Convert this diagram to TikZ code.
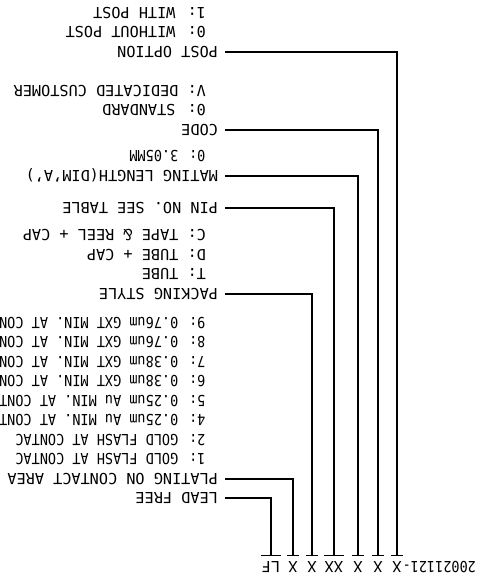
\documentclass[tikz,border=0pt]{standalone}
\usepackage{fontspec}
\setmainfont{DejaVu Sans Mono}
\newfontfamily\narrowfont[FakeStretch=0.89]{DejaVu Sans Mono}

\begin{document}
\begin{tikzpicture}[
    x=1pt,
    y=-1pt,
    rotate=180,
    transform shape,
    font=\fontsize{15.2}{18}\selectfont,
    line width=1.1pt,
    field/.style={
        anchor=base,
        inner xsep=0.5pt,
        inner ysep=5pt,
        text height=11pt,
        text depth=0pt
    },
    heading/.style={
        anchor=west,
        inner xsep=6.5pt,
        inner ysep=0pt,
        text height=11pt,
        text depth=0pt
    },
    option/.style={
        heading,
        inner xsep=0pt
    },
    narrow/.style={
        font=\fontsize{15.2}{18}\narrowfont
    }
]
    \useasboundingbox (0,0) rectangle (480,584);

    % part number
    \node[field,narrow,anchor=base east] (num) at (78.4,23) {20021121-};
    \node[field] (post) at (83,23) {X};
    \node[field] (code) at (102,23) {X};
    \node[field] (mating) at (122,23) {X};
    \node[field] (pins) at (146,23) {XX};
    \node[field] (packing) at (168,23) {X};
    \node[field] (plating) at (187,23) {X};
    \node[field] (lf) at (209,23) {LF};

    % headings
    \node[heading] (lf_text) at (255,86) {LEAD FREE};
    \node[heading] (plating_text) at (255,105) {PLATING ON CONTACT AREA};
    \node[heading] (packing_text) at (255,290) {PACKING STYLE};
    \node[heading] (pins_text) at (255,376) {PIN NO. SEE TABLE};
    \node[heading] (mating_text) at (255,408) {MATING LENGTH(DIM'A')};
    \node[heading] (code_text) at (255,454) {CODE};
    \node[heading] (post_text) at (255,532) {POST OPTION};

    % options under each heading
    \foreach \t [count=\i] in {1: GOLD FLASH AT CONTAC,2: GOLD FLASH AT CONTAC,
            4: 0.25um Au MIN. AT CONT,5: 0.25um Au MIN. AT CONT,
            6: 0.38um GXT MIN. AT CON,7: 0.38um GXT MIN. AT CON,
            8: 0.76um GXT MIN. AT CON,9: 0.76um GXT MIN. AT CON}
        \node[option,narrow] (plating_\i) at (274,105+19.5*\i) {\t};
    \foreach \t [count=\i] in {T: TUBE,D: TUBE + CAP,C: TAPE \& REEL + CAP}
        \node[option] (packing_\i) at (273.5,290+19.5*\i) {\t};
    \node[option,narrow] (mating_1) at (274,427.5) {0: 3.05MM};
    \foreach \t [count=\i] in {0: STANDARD,V: DEDICATED CUSTOMER}
        \node[option] (code_\i) at (273.5,454+19.5*\i) {\t};
    \foreach \t [count=\i] in {0: WITHOUT POST,1: WITH POST}
        \node[option] (post_\i) at (273.5,532+19.5*\i) {\t};

    % leaders
    \foreach \f in {post,code,mating,pins,packing,plating,lf} {
        \draw (\f.south west) -- (\f.south east);
        \draw (\f.south) |- (\f_text.west);
    }
\end{tikzpicture}
\end{document}
